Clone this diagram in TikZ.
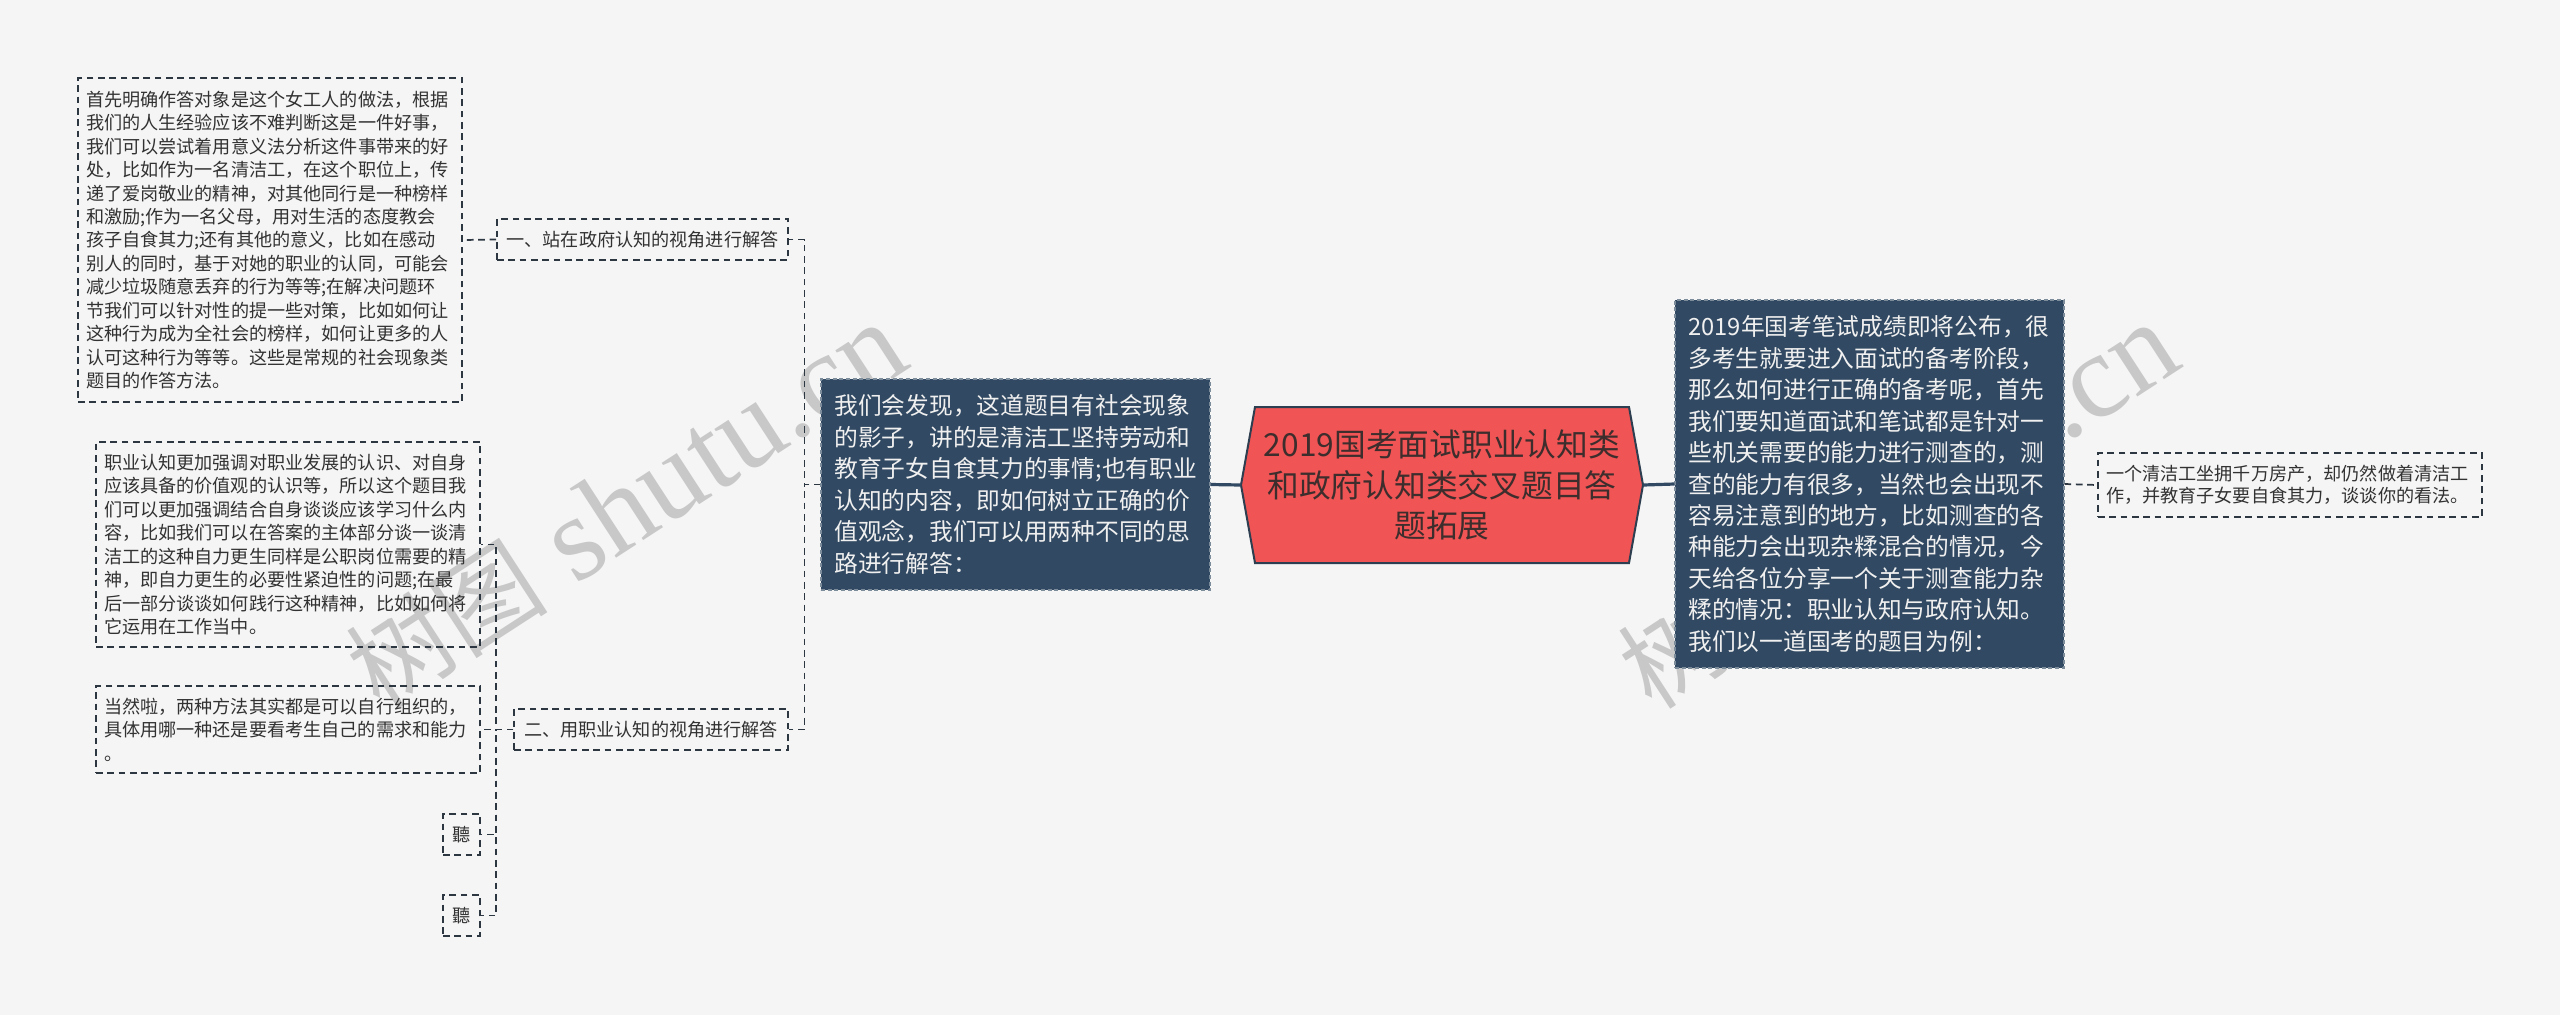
\documentclass[tikz,border=0pt]{standalone}
\usepackage{fontspec}
\setmainfont{Noto Sans CJK SC}
\newfontfamily\wmlat{Liberation Serif}
\newfontfamily\wmcjk{Noto Sans CJK SC}
\definecolor{bgc}{RGB}{245,245,245}
\definecolor{darkfill}{RGB}{49,73,98}
\definecolor{darkedge}{RGB}{125,140,155}
\definecolor{hexfill}{RGB}{240,84,84}
\definecolor{hexline}{RGB}{44,62,80}
\definecolor{hextxt}{RGB}{62,45,45}
\definecolor{linec}{RGB}{45,55,66}
\definecolor{txt}{RGB}{50,50,50}
\definecolor{lighttxt}{RGB}{240,240,240}
\definecolor{wmc}{RGB}{200,200,200}
\tikzset{
  sbox/.style={draw=linec, line width=1.2pt, dash pattern=on 5pt off 3.5pt,
    text=txt, font=\fontsize{13.6}{17.6}\selectfont, align=left,
    inner xsep=6pt, inner ysep=0pt, text width=276pt,
    minimum width=288pt},
  lbox/.style={draw=linec, line width=1.2pt, dash pattern=on 5pt off 3.5pt,
    text=txt, font=\fontsize{13.6}{17.6}\selectfont, align=center,
    inner xsep=0pt, inner ysep=0pt, minimum height=30.75pt},
  dbox/.style={fill=darkfill, draw=darkedge, line width=0.8pt,
    dash pattern=on 3pt off 2pt,
    text=lighttxt, font=\fontsize{17.8}{23.6}\selectfont, align=left,
    inner xsep=10pt, inner ysep=0pt, text width=271.75pt,
    minimum width=291.75pt},
  dconn/.style={draw=linec, line width=1.3pt, dash pattern=on 5pt off 3.5pt},
  sconn/.style={draw=darkfill, line width=2.4pt},
  wmark/.style={text=wmc, font=\wmlat\fontsize{90}{90}\selectfont,
    inner sep=0pt, anchor=base west, rotate=33}
}
\begin{document}
\begin{tikzpicture}[x=0.75pt,y=-0.75pt]
\useasboundingbox (0,0) rectangle (2560,1015);
\fill[bgc] (0,0) rectangle (2560,1015);

% watermarks
\node[wmark] (wm1) at (380,712) {{\wmcjk\fontsize{76}{76}\selectfont 树图} shutu.cn};
\node[wmark] (wm2) at (1652,712) {{\wmcjk\fontsize{76}{76}\selectfont 树图} shutu.cn};

% central hexagon
\draw[fill=hexfill, draw=hexline, line width=1.5pt]
  (1241,485) -- (1255,407) -- (1629,407) -- (1643,485) -- (1629,563) -- (1255,563) -- cycle;
\node[text=hextxt, font=\fontsize{23.8}{30.4}\selectfont, align=center,
  minimum width=301.5pt, minimum height=117pt, inner sep=0pt] (hex) at (1442,485)
  {2019国考面试职业认知类\\和政府认知类交叉题目答\\题拓展};

% dark boxes
\node[dbox, minimum height=158.25pt] (d1) at (1015.5,484.5)
  {我们会发现，这道题目有社会现象\\的影子，讲的是清洁工坚持劳动和\\教育子女自食其力的事情;也有职业\\认知的内容，即如何树立正确的价\\值观念，我们可以用两种不同的思\\路进行解答：};
\node[dbox, minimum height=276pt] (d2) at (1869.5,484)
  {2019年国考笔试成绩即将公布，很\\多考生就要进入面试的备考阶段，\\那么如何进行正确的备考呢，首先\\我们要知道面试和笔试都是针对一\\些机关需要的能力进行测查的，测\\查的能力有很多，当然也会出现不\\容易注意到的地方，比如测查的各\\种能力会出现杂糅混合的情况，今\\天给各位分享一个关于测查能力杂\\糅的情况：职业认知与政府认知。\\我们以一道国考的题目为例：};

% question box
\node[sbox, minimum height=48pt, font=\fontsize{13.6}{16.6}\selectfont] (q) at (2290,485)
  {一个清洁工坐拥千万房产，却仍然做着清洁工\\作，并教育子女要自食其力，谈谈你的看法。};

% branch labels
\node[lbox, minimum width=218.25pt] (l1) at (642.5,239.5) {一、站在政府认知的视角进行解答};
\node[lbox, minimum width=205.5pt] (l2) at (651,729.5) {二、用职业认知的视角进行解答};

% left text boxes
\node[sbox, minimum height=243pt] (b1) at (270,240)
  {首先明确作答对象是这个女工人的做法，根据\\我们的人生经验应该不难判断这是一件好事，\\我们可以尝试着用意义法分析这件事带来的好\\处，比如作为一名清洁工，在这个职位上，传\\递了爱岗敬业的精神，对其他同行是一种榜样\\和激励;作为一名父母，用对生活的态度教会\\孩子自食其力;还有其他的意义，比如在感动\\别人的同时，基于对她的职业的认同，可能会\\减少垃圾随意丢弃的行为等等;在解决问题环\\节我们可以针对性的提一些对策，比如如何让\\这种行为成为全社会的榜样，如何让更多的人\\认可这种行为等等。这些是常规的社会现象类\\题目的作答方法。};
\node[sbox, minimum height=153.75pt] (b2) at (288,544.5)
  {职业认知更加强调对职业发展的认识、对自身\\应该具备的价值观的认识等，所以这个题目我\\们可以更加强调结合自身谈谈应该学习什么内\\容，比如我们可以在答案的主体部分谈一谈清\\洁工的这种自力更生同样是公职岗位需要的精\\神，即自力更生的必要性紧迫性的问题;在最\\后一部分谈谈如何践行这种精神，比如如何将\\它运用在工作当中。};
\node[sbox, minimum height=65.25pt] (b3) at (288,729.5)
  {当然啦，两种方法其实都是可以自行组织的，\\具体用哪一种还是要看考生自己的需求和能力\\。};
\node[lbox, minimum width=27.75pt] (t1) at (461.5,834.5) {聽};
\node[lbox, minimum width=27.75pt] (t2) at (461.5,915.5) {聽};

% connectors
\draw[sconn] (hex.west) -- (d1.east);
\draw[sconn] (hex.east) -- (d2.west);
\draw[dconn] (d2.east) -- (q.west);
\draw[dconn] (d1.west) -- ++(-16,0) |- (l1.east);
\draw[dconn] (d1.west) -- ++(-16,0) |- (l2.east);
\draw[dconn] (l1.west) -- (b1.east);
\draw[dconn] (l2.west) -- ++(-17,0) |- (b2.east);
\draw[dconn] (l2.west) -- ++(-17,0) |- (b3.east);
\draw[dconn] (l2.west) -- ++(-17,0) |- (t1.east);
\draw[dconn] (l2.west) -- ++(-17,0) |- (t2.east);
\end{tikzpicture}
\end{document}
